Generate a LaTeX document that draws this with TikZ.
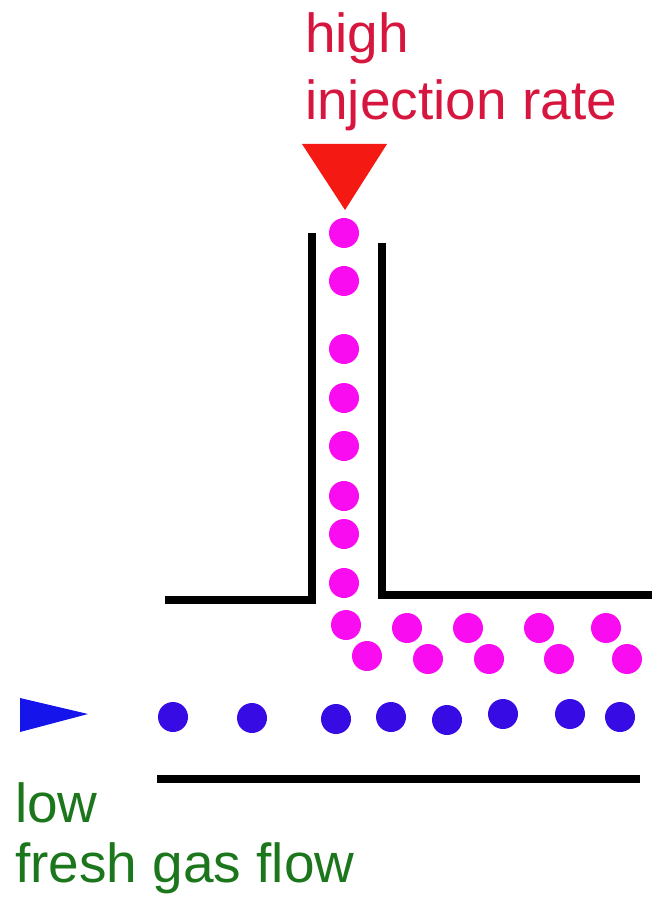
\documentclass[tikz,border=0pt]{standalone}
\usepackage{fontspec}
\setmainfont{Liberation Sans}
\definecolor{ratered}{RGB}{214,22,62}
\definecolor{flowgreen}{RGB}{28,118,28}
\definecolor{arrowred}{RGB}{245,25,20}
\definecolor{arrowblue}{RGB}{20,20,235}
\definecolor{gasblue}{RGB}{55,12,228}
\definecolor{drugpink}{RGB}{250,12,240}
\begin{document}
\begin{tikzpicture}[x=1pt,y=-1pt,
  wall/.style={line width=7.5pt,black},
  label/.style={inner sep=0pt,anchor=north west,align=left}]
\useasboundingbox (0,0) rectangle (654,909);
% tube walls
\draw[wall] (165,600) -- (312,600) -- (312,233);
\draw[wall] (382,243) -- (382,595) -- (652,595);
\draw[wall] (157,779) -- (640,779);
% inlets
\fill[arrowred] (302,144) -- (387,144) -- (345,210) -- cycle;
\fill[arrowblue] (20,698) -- (88,714) -- (20,732) -- cycle;
% injected agent
\foreach \y in {233,281,349,398,446,496,534,583}
  \fill[drugpink] (344,\y) circle (15);
\foreach \x/\y in {346/625,367/656,407/628,428/659,468/628,489/659,539/628,559/659,606/628,627/659}
  \fill[drugpink] (\x,\y) circle (15);
% fresh gas
\foreach \x/\y in {173/717,252/718,336/719,391/717,447/720,503/714,570/714,620/717}
  \fill[gasblue] (\x,\y) circle (15);
% labels
\node[label,text=ratered,font=\fontsize{55}{67}\selectfont] (injlabel) at (305,12) {high\\injection rate};
\node[label,text=flowgreen,font=\fontsize{55}{60}\selectfont] (gaslabel) at (15,782) {low\\fresh gas flow};
\end{tikzpicture}
\end{document}
